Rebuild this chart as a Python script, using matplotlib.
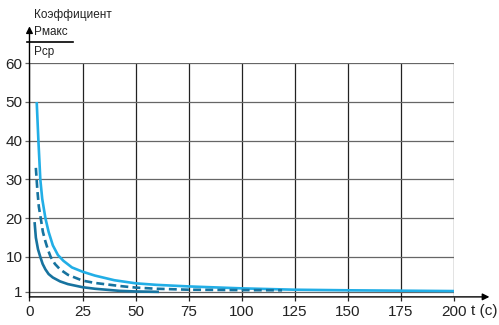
import matplotlib
matplotlib.use("Agg")
import matplotlib.pyplot as plt

# values
x_ticks = [0, 25, 50, 75, 100, 125, 150, 175, 200]
y_ticks = [1, 10, 20, 30, 40, 50, 60]

t_light = [3.4, 4.2, 5.1, 6.0, 7.5, 9, 11, 13.4, 16, 20, 25, 30.8, 40, 50, 60, 75, 100, 125, 150, 175, 200]
k_light = [50, 40, 30, 25, 20, 16.5, 13, 10.5, 9.0, 7.3, 6.2, 5.2, 4.0, 3.2, 2.8, 2.4, 1.9, 1.55, 1.4, 1.3, 1.2]

t_dash = [3, 3.7, 4.4, 5.3, 6.3, 7.5, 8.8, 10, 12, 14.4, 18.1, 25, 30.8, 42.6, 50, 60, 75, 100, 119]
k_dash = [33, 27.3, 23, 20, 16.5, 14, 11.7, 10, 8.2, 6.8, 5.4, 3.9, 3.3, 2.5, 2.1, 1.8, 1.55, 1.45, 1.4]

t_solid = [2.4, 3.0, 4.0, 5.1, 6.2, 7.5, 9, 11, 14.4, 18.1, 25, 30.8, 42.6, 50, 61]
k_solid = [19, 15, 12, 10, 8.2, 6.8, 5.6, 4.7, 3.7, 3.0, 2.2, 1.8, 1.25, 1.1, 1.0]

light = '#22aee6'
dark = '#17739f'

plt.rcParams['font.family'] = ['Liberation Sans', 'DejaVu Sans']

fig = plt.figure(figsize=(4.99, 3.25), dpi=100)
ax = fig.add_axes([0.0591, 0.0865, 0.8507, 0.7189])
ax.set_xlim(0, 200)
ax.set_ylim(-0.3, 60)

ax.set_xticks(x_ticks)
ax.set_yticks(y_ticks)
ax.tick_params(axis='x', direction='out', length=3, width=0.9, color='#222',
               labelsize=11, labelcolor='#222', pad=3)
ax.tick_params(axis='y', direction='out', length=3, width=0.9, color='#666',
               labelsize=11, labelcolor='#222', pad=2)
ax.xaxis.grid(True, color='#222', lw=0.9)
ax.yaxis.grid(True, color='#666', lw=0.9)
ax.set_axisbelow(True)
for s in ax.spines.values():
    s.set_visible(False)

# curves
ax.plot(t_light, k_light, color=light, lw=1.9, solid_capstyle='butt',
        solid_joinstyle='round', zorder=3)
ax.plot(t_dash, k_dash, color=dark, lw=1.9, ls=(0, (3, 1.6)), zorder=3)
ax.plot(t_solid, k_solid, color=dark, lw=1.9, solid_capstyle='butt',
        solid_joinstyle='round', zorder=3)

# axis arrows
ax.annotate('', xy=(1.09, 0), xytext=(-0.006, 0), xycoords='axes fraction',
            arrowprops=dict(arrowstyle='-|>', mutation_scale=10, color='black', lw=1),
            annotation_clip=False)
ax.annotate('', xy=(0, 1.17), xytext=(0, -0.015), xycoords='axes fraction',
            arrowprops=dict(arrowstyle='-|>', mutation_scale=10, color='black', lw=1),
            annotation_clip=False)

# labels
fig.text(34 / 499, 1 - 15 / 325, 'Коэффициент', fontsize=8.5,
         va='center', ha='left', color='#222')
fig.text(34 / 499, 1 - 32 / 325, 'Pмакс', fontsize=8.5,
         va='center', ha='left', color='#222')
fig.text(34 / 499, 1 - 52 / 325, 'Pср', fontsize=8.5,
         va='center', ha='left', color='#222')
fig.add_artist(plt.Line2D([27 / 499, 73 / 499], [1 - 42 / 325, 1 - 42 / 325],
                          color='black', lw=1.2))
fig.text(471 / 499, 1 - 311 / 325, 't (c)', fontsize=11, va='center', ha='left',
         color='#222')

fig.savefig('out.png', dpi=100)
